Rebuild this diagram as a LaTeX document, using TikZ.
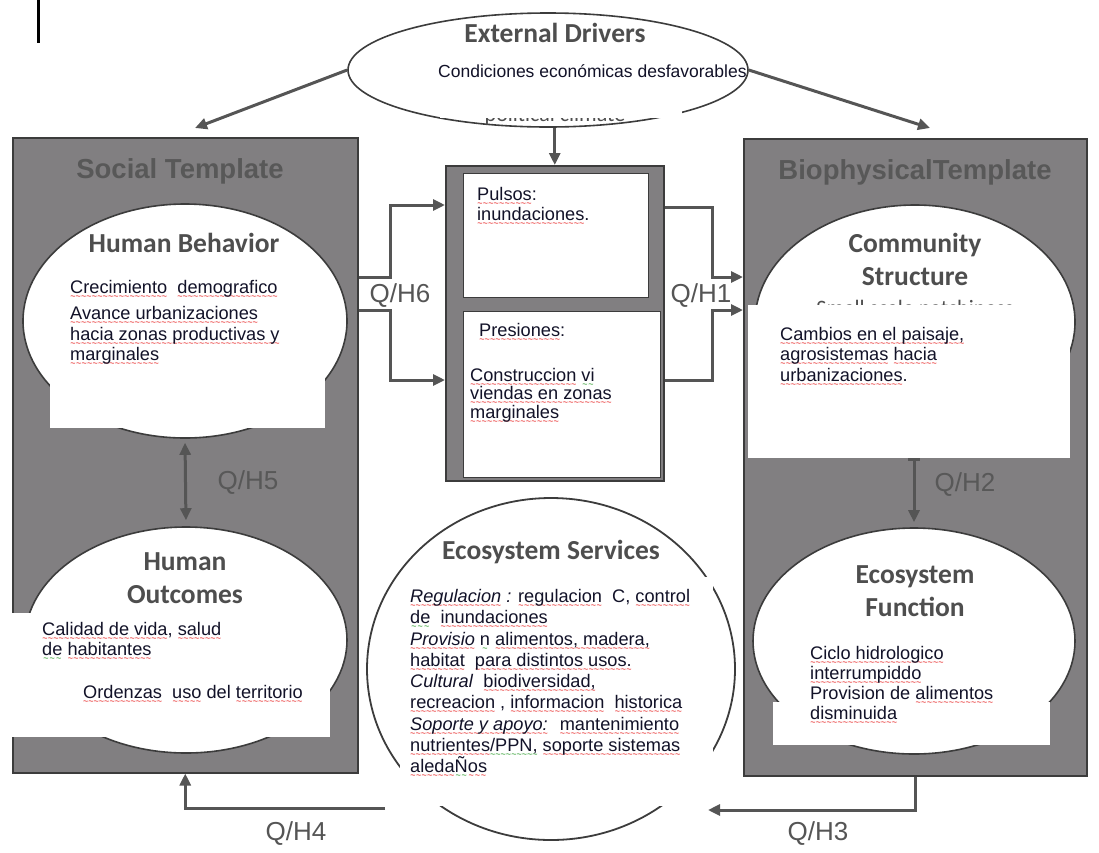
\documentclass[tikz,border=0pt]{standalone}
\usepackage{fontspec}
\setmainfont{Liberation Sans}
\newfontfamily\calib{Carlito}
\usetikzlibrary{positioning,arrows.meta,calc,shapes.geometric}
\definecolor{ink}{RGB}{18,18,40}
\definecolor{tmplgray}{RGB}{129,127,129}
\definecolor{framegray}{RGB}{60,60,60}
\definecolor{ttlgray}{RGB}{78,78,78}
\definecolor{tmplink}{RGB}{88,88,88}
\definecolor{arrgray}{RGB}{85,85,85}
\definecolor{spellred}{RGB}{230,20,20}
\definecolor{spellgreen}{RGB}{30,150,30}
% spell-check waves under the words
\newcommand\spellwave[2]{\setbox0\hbox{#2}\leavevmode\rlap{\raisebox{-6pt}[0pt][0pt]{%
  \hbox to \wd0{\color{#1}\fontsize{9}{9}\selectfont\xleaders\hbox{\char`\~}\hfill}}}\box0\relax}
\newcommand\rw{\spellwave{spellred}}
\newcommand\gw{\spellwave{spellgreen}}
\tikzset{
  tmpl/.style={draw=framegray, fill=tmplgray, line width=1.5pt, inner sep=0pt,
    anchor=north west},
  pane/.style={draw=framegray, fill=white, line width=1pt, inner sep=0pt,
    anchor=north west},
  bubble/.style={ellipse, draw=framegray, fill=white, line width=1.6pt, inner sep=0pt},
  cover/.style={fill=white, inner sep=0pt, anchor=north west},
  ttl/.style={font=\calib\bfseries\fontsize{27.5}{33}\selectfont, text=ttlgray,
    align=center, inner sep=0pt},
  tmplttl/.style={font=\bfseries\fontsize{27.5}{33}\selectfont, text=tmplink, inner sep=0pt},
  cutttl/.style={font=\calib\fontsize{22}{26}\selectfont, text=ttlgray, inner sep=0pt},
  txt/.style={font=\fontsize{18.2}{20.5}\selectfont, text=ink, align=left,
    inner sep=0pt, anchor=north west},
  qlab/.style={font=\fontsize{26}{30}\selectfont, text=arrgray, inner sep=0pt},
  flow/.style={-{Triangle[length=12pt,width=11pt]}, line width=3pt, draw=arrgray},
  dflow/.style={{Triangle[length=12pt,width=11pt]}-{Triangle[length=12pt,width=11pt]},
    line width=3pt, draw=arrgray},
}

\begin{document}
\begin{tikzpicture}[x=1pt,y=-1pt]
  \useasboundingbox (0,0) rectangle (1099,852);
  \draw[line width=3pt] (38,0) -- (38,43);

  % templates and the pressure frame
  \node[tmpl, minimum width=345, minimum height=635] (social) at (12,137) {};
  \node[tmpl, minimum width=343, minimum height=637] (bio) at (743,138) {};
  \node[tmpl, minimum width=218, minimum height=315] (press) at (445,165) {};
  \node[pane, minimum width=185, minimum height=124] (pulsbox) at (463,173) {};
  \node[pane, minimum width=197, minimum height=166] (presbox) at (463,311) {};
  \node[tmplttl] (socttl) at (180,171) {Social Template};
  \node[tmplttl] (biottl) at (915,172) {BiophysicalTemplate};

  % external drivers
  \node[bubble, minimum width=400, minimum height=114] (drv) at (548,70) {};
  \node[cutttl, anchor=base] (drvcut) at (555,121) {political climate};
  \node[cover, minimum width=242, minimum height=23] (drvcov) at (440,95) {};
  \node[ttl] (drvttl) at (555,33) {External Drivers};
  \node[txt, font=\fontsize{17.5}{20}\selectfont, anchor=base west] (drvtxt) at (438,77)
    {Condiciones económicas desfavorables};

  % bubbles
  \node[bubble, minimum width=324, minimum height=234] (behav) at (185,321) {};
  \node[cover, minimum width=275, minimum height=50] (behavcov) at (50,378) {};
  \node[bubble, minimum width=320, minimum height=234] (comm) at (915,322) {};
  \node[cutttl] (commcut) at (915,310) {Small scale patchiness};
  \node[cover, minimum width=322, minimum height=153] (commcov) at (748,305) {};
  \node[bubble, minimum width=322, minimum height=226] (outc) at (186,640) {};
  \node[cover, minimum width=322, minimum height=124] (outccov) at (8,613) {};
  \node[bubble, minimum width=322, minimum height=226] (func) at (914,641) {};
  \node[cover, minimum width=277, minimum height=43] (funccov) at (773,702) {};
  \node[bubble, minimum width=368, minimum height=342, line width=1.8pt] (serv) at (551,669) {};
  \node[cover, minimum width=313, minimum height=229] (servcov) at (400,577) {};

  \node[ttl] (behavttl) at (184,243) {Human Behavior};
  \node[ttl] (commttl) at (915,259) {Community\\Structure};
  \node[ttl] (outcttl) at (185,578) {Human\\Outcomes};
  \node[ttl] (functtl) at (915,591) {Ecosystem\\Function};
  \node[ttl] (servttl) at (551,552) {Ecosystem Services};

  % texts
  \node[txt] (behavtxt) at (70,280) {\rw{Crecimiento}\ \ \rw{demografico}\\[6pt]
    \rw{Avance urbanizaciones}\\\rw{hacia zonas productivas y}\\\rw{marginales}};
  \node[txt] (pulstxt) at (477,187) {\rw{Pulsos}:\\\rw{inundaciones}.};
  \node[txt] (prestitle) at (479,323) {\rw{Presiones}:};
  \node[txt, font=\fontsize{18.2}{18.5}\selectfont] (prestxt) at (470,368)
    {\rw{Construccion} \gw{vi}\\\rw{viendas en zonas}\\\rw{marginales}};
  \node[txt] (commtxt) at (780,327) {\rw{Cambios en el paisaje,}\\
    \rw{agrosistemas} \rw{hacia}\\\rw{urbanizaciones}.};
  \node[txt] (outctxt) at (42,622) {\rw{Calidad de vida}, \rw{salud}\\\gw{de} \rw{habitantes}};
  \node[txt] (outctxt2) at (83,685) {\rw{Ordenzas}\ \ \rw{uso} del \rw{territorio}};
  \node[txt, font=\fontsize{18.2}{20}\selectfont] (functxt) at (810,646)
    {\rw{Ciclo hidrologico}\\\rw{interrumpiddo}\\Provision de \rw{alimentos}\\\rw{disminuida}};
  \node[txt, font=\fontsize{18.2}{21.3}\selectfont] (servtxt) at (410,589)
    {\rw{\textit{Regulacion}} \textit{:} \rw{regulacion}\ \ C, \rw{control}\\
     \gw{de}\ \ \rw{inundaciones}\\
     \rw{\textit{Provisio}} \gw{n} \rw{alimentos, madera,}\\
     \rw{habitat}\ \ \rw{para distintos usos.}\\
     \textit{Cultural}\ \ \rw{biodiversidad,}\\
     \rw{recreacion} , \rw{informacion}\ \ \rw{historica}\\
     \rw{\textit{Soporte y apoyo:}}\hspace{12pt}\rw{mantenimiento}\\
     \rw{nutrientes}\gw{/PPN,} \rw{soporte sistemas}\\
     \rw{aleda}\gw{Ñ}\rw{os}};

  % connectors
  \coordinate (soctip) at (195,128);
  \coordinate (biotip) at (930,128);
  \draw[flow] (drv.west) -- (soctip);
  \draw[flow] (drv.east) -- (biotip);
  \draw[flow] (press.north |- drv.south) -- (press.north);

  \coordinate (h6up) at (390,205);
  \coordinate (h6dn) at (390,380);
  \draw[flow] (social.east |- 0,277) -| (h6up) -- (press.west |- h6up);
  \draw[flow] (social.east |- 0,310) -| (h6dn) -- (press.west |- h6dn);
  \node[qlab] (q6) at (400,296) {Q/H6};

  \coordinate (h1up) at (712,277);
  \coordinate (h1dn) at (712,310);
  \draw[flow] (press.east |- 0,207) -| (h1up) -- (bio.west |- h1up);
  \draw[flow] (press.east |- 0,380) -| (h1dn) -- (bio.west |- h1dn);
  \node[qlab] (q1) at (701,296) {Q/H1};

  \draw[dflow, shorten <=4pt, shorten >=6pt] (behav.south) -- (outc.north);
  \node[qlab, text=tmplink] (q5) at (248,483) {Q/H5};
  \draw[flow, {Bar[width=12pt]}-{Triangle[length=12pt,width=11pt]}, shorten >=5pt]
    (commcov.south -| func.north) -- (func.north);
  \node[qlab, text=tmplink] (q2) at (965,485) {Q/H2};

  \coordinate (h4end) at (385,808);
  \coordinate (h3end) at (708,810);
  \draw[flow] (h4end) -| (social.south);
  \node[qlab] (q4) at (296,834) {Q/H4};
  \draw[flow] (bio.south) |- (h3end);
  \node[qlab] (q3) at (818,834) {Q/H3};
\end{tikzpicture}
\end{document}
